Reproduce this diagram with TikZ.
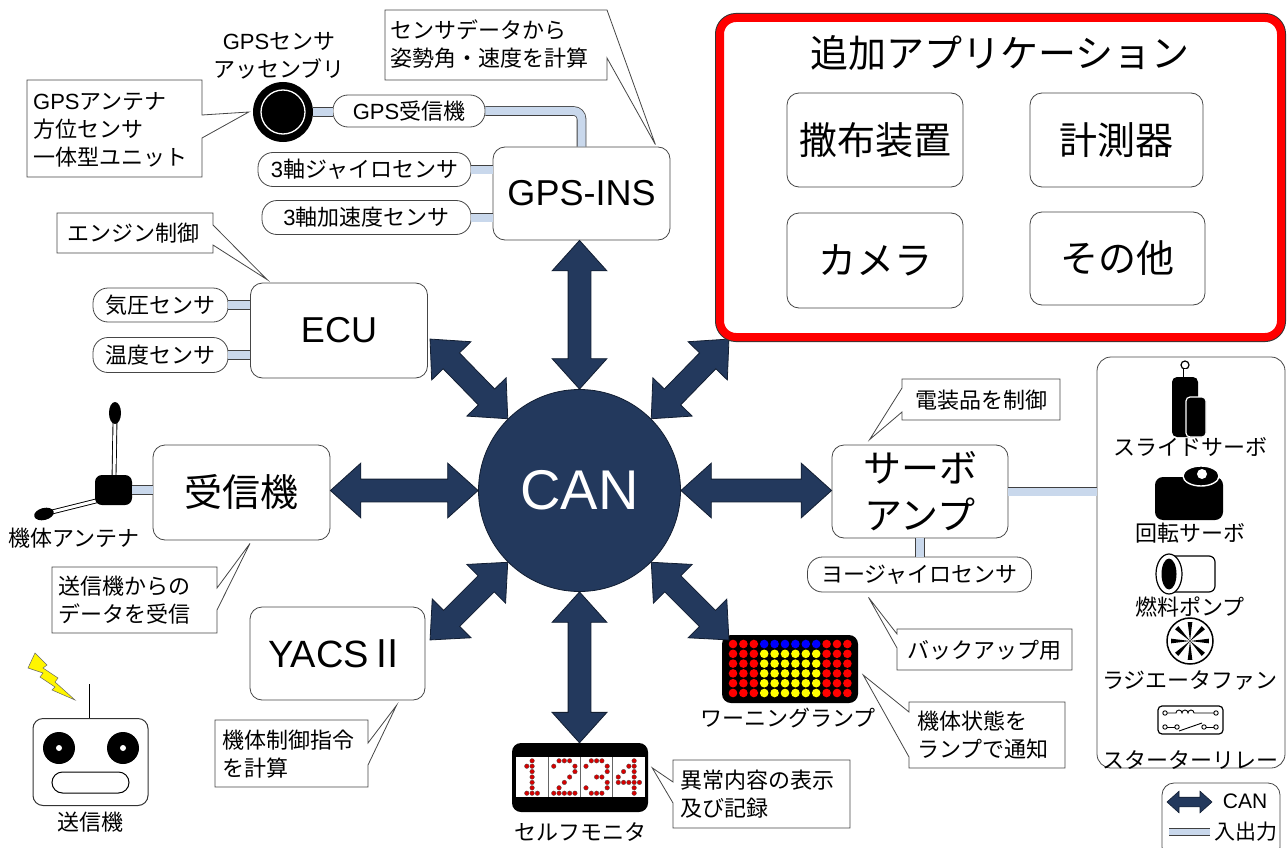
\documentclass[tikz,border=0pt]{standalone}
\usepackage{fontspec}
\setmainfont{Noto Sans CJK JP}
\newfontfamily\lat{Liberation Sans}
\usetikzlibrary{shapes.arrows,calc}

\definecolor{navy}{RGB}{35,57,93}
\definecolor{navyline}{RGB}{18,30,50}
\definecolor{iofill}{RGB}{201,216,236}
\definecolor{ledred}{RGB}{255,0,0}
\definecolor{ledblue}{RGB}{0,0,255}
\definecolor{ledyellow}{RGB}{255,255,0}
\definecolor{digitred}{RGB}{215,0,0}
\definecolor{boltyellow}{RGB}{255,245,0}
\definecolor{edge}{RGB}{70,70,70}

\newcommand\fsBig{\fontsize{38}{47}\selectfont}
\newcommand\fsBigLat{\lat\fontsize{36}{44}\selectfont}
\newcommand\fsSmall{\fontsize{22}{28}\selectfont}

% block arrow of the CAN bus between two points
\newcommand\canlink[4][]{%
  \path let \p1=(#3), \p2=(#4),
    \n1={atan2(\y2-\y1,\x2-\x1)}, \n2={veclen(\x2-\x1,\y2-\y1)} in
    node[canarrow,#1,rotate=\n1,minimum height=\n2] (#2) at ($(\p1)!0.5!(\p2)$) {};}

\begin{document}
\begin{tikzpicture}[x=1pt,y=-1pt,
  unit/.style={draw=edge, line width=0.8pt, fill=white, rounded corners=12pt,
    align=center, inner sep=0pt},
  pill/.style={draw=edge, line width=0.8pt, fill=white, rounded corners=15pt,
    inner sep=0pt, font=\fsSmall},
  callout/.style={draw=edge, line width=0.8pt, fill=white, line join=miter},
  txt/.style={font=\fsSmall, inner sep=0pt, align=left},
  io/.style={draw=black!75, line width=0.8pt, double=iofill, double distance=8pt},
  rod/.style={draw=black, line width=0.9pt, double=white, double distance=3pt},
  canarrow/.style={shape=double arrow, fill=navy, draw=navyline, line width=0.8pt,
    inner xsep=0pt, inner ysep=11pt, double arrow head extend=16pt,
    double arrow tip angle=84},
]
\useasboundingbox (0,0) rectangle (1287,848);

% ---------------- central bus ----------------
\node[circle, fill=navy, draw=navyline, line width=0.8pt, minimum size=202pt,
  inner sep=0pt, text=white, font=\lat\fontsize{56}{56}\selectfont] (can) at (579.5,490.5) {CAN};

% ---------------- units on the bus ----------------
\node[unit, minimum width=177pt, minimum height=93pt, font=\fsBigLat] (gpsins) at (581.5,193.5) {GPS-INS};
\node[unit, minimum width=177pt, minimum height=95pt, font=\fsBigLat] (ecu) at (339,330.5) {ECU};
\node[unit, minimum width=177pt, minimum height=95pt, font=\fsBig] (rx) at (241.5,492.5) {受信機};
\node[unit, minimum width=175pt, minimum height=93pt, font=\fsBig] (yacs) at (337.5,653.5) {{\lat YACS}Ⅱ};
\node[unit, minimum width=176pt, minimum height=93pt, font=\fsBig] (servo) at (920,491.5) {サーボ\\アンプ};

% sensors
\node[pill, minimum width=152pt, minimum height=32pt] (gpsrx) at (409,111) {{\lat GPS}受信機};
\node[pill, minimum width=213pt, minimum height=34pt] (gyro) at (364.5,169.5) {{\lat 3}軸ジャイロセンサ};
\node[pill, minimum width=209pt, minimum height=34pt] (accel) at (366.5,217.5) {{\lat 3}軸加速度センサ};
\node[pill, minimum width=135pt, minimum height=34pt] (press) at (160.5,305) {気圧センサ};
\node[pill, minimum width=135pt, minimum height=35pt] (temp) at (160.5,355) {温度センサ};
\node[pill, minimum width=224pt, minimum height=35pt] (yaw) at (919.5,574.5) {ヨージャイロセンサ};

% GPS sensor assembly
\node[circle, fill=black, minimum size=60pt, inner sep=0pt] (gpsant) at (283,112) {};
\draw[white, line width=1.3pt] (gpsant.center) circle (22);
\node[txt, align=center] (gpsantlbl) at (279,56) {{\lat GPS}センサ\\アッセンブリ};

% receiver antenna
\draw[rod] (114,478) -- (115,421);
\fill (115,413) ellipse (6 and 11);
\draw[rod] (100,500) -- (52,512);
\fill[rotate around={14:(44,514)}] (44,514) ellipse (10 and 6);
\node[fill=black, rounded corners=7pt, minimum width=37pt, minimum height=30pt, inner sep=0pt] (hub) at (113.5,490) {};
\node[txt] (hublbl) at (74,538) {機体アンテナ};

% ---------------- input / output links ----------------
\draw[io, rounded corners=8pt] (gpsrx.east) -| (gpsins.north);
\draw[io] (gpsant.east) -- (gpsrx.west |- gpsant.east);
\draw[io] (gyro.east) -- (gpsins.west |- gyro.east);
\draw[io] (accel.east) -- (gpsins.west |- accel.east);
\draw[io] (press.east) -- (ecu.west |- press.east);
\draw[io] (temp.east) -- (ecu.west |- temp.east);
\draw[io] (hub.east) -- (rx.west |- hub.east);
\draw[io] (servo.south) -- (servo.south |- yaw.north);

% ---------------- actuator panel ----------------
\node[draw=edge, line width=0.8pt, rounded corners=14pt, minimum width=188pt, minimum height=411pt, inner sep=0pt] (panel) at (1191,562.5) {};
\draw[io] (servo.east) -- (panel.west |- servo.east);

% slide servo
\draw[black, line width=1.2pt, fill=white] (1185,365) circle (4);
\draw[rod] (1185,369) -- (1185,378);
\fill[rounded corners=5pt] (1172,377) rectangle (1198,437);
\draw[white, line width=1.2pt, fill=black, rounded corners=4pt] (1186,397) rectangle (1206,437);
\node[txt] (slidelbl) at (1190,447) {スライドサーボ};
% rotary servo
\fill[rounded corners=8pt] (1155,477) rectangle (1223,520);
\draw[white, line width=1.4pt, fill=black] (1201,476) ellipse (18 and 10);
\fill[white] (1202,474) circle (5);
\node[txt] (rotlbl) at (1190,533) {回転サーボ};
% fuel pump
\draw[line width=1.2pt, fill=white, rounded corners=6pt] (1169,556) rectangle (1215,592);
\draw[line width=1.2pt, fill=white] (1169,574) ellipse (13 and 20);
\fill (1169,574) ellipse (7.5 and 15.5);
\node[txt] (pumplbl) at (1190,607) {燃料ポンプ};
% radiator fan
\draw[line width=1.5pt, fill=white] (1190,641) circle (23);
\foreach \a in {0,45,...,315}
  \fill (1190,641) -- +(\a-7:19) -- +(\a+7:19) -- cycle;
\node[txt] (fanlbl) at (1190,680) {ラジエータファン};
% starter relay
\draw[line width=1.2pt, fill=white, rounded corners=4pt] (1158,706) rectangle (1223,734);
\begin{scope}[line width=0.9pt]
  \draw (1165,713) circle (2.2) (1216,713) circle (2.2);
  \draw (1167.2,713) -- (1176,713) arc[start angle=180,end angle=360,radius=3]
    arc[start angle=180,end angle=360,radius=3] arc[start angle=180,end angle=360,radius=3]
    -- (1213.8,713);
  \draw (1165,727) circle (2.2) (1177,727) circle (2.2) (1204,727) circle (2.2) (1216,727) circle (2.2);
  \draw (1167.2,727) -- (1174.8,727) (1206.2,727) -- (1213.8,727);
  \draw (1179,731) -- (1202,723);
\end{scope}
\node[txt] (relaylbl) at (1190,760) {スターターリレー};

% ---------------- warning lamp ----------------
\node[fill=black, rounded corners=9pt, minimum width=136pt, minimum height=68pt, inner sep=0pt] (lamp) at (790,669) {};
\foreach \c in {0,...,11}{\foreach \r in {0,...,5}{
  \ifnum\c<3 \def\dc{ledred}\else\ifnum\c>8 \def\dc{ledred}\else
    \ifnum\r=0 \def\dc{ledblue}\else\def\dc{ledyellow}\fi\fi\fi
  \fill[\dc] ({733+\c*10.4},{644+\r*9.8}) circle (4.3);}}
\node[txt] (lamplbl) at (788,718) {ワーニングランプ};

% ---------------- self monitor ----------------
\node[fill=black, rounded corners=9pt, minimum width=136pt, minimum height=69pt, inner sep=0pt] (mon) at (580,777.5) {};
\fill[white] (516,757) rectangle (645,797);
\foreach \k in {1,2,3} \draw[black!60, line width=1pt] ({516+\k*32.25},757) -- ({516+\k*32.25},797);
\newcommand\digitdots[2]{%
  \foreach \i/\j in {#2}
    \draw[fill=digitred, draw=black!70, line width=0.3pt]
      ({532.1+#1*32.25+(\i-2)*5.3},{777+(\j-3)*5.4}) circle (2.3);}
\digitdots{0}{2/0,1/1,2/1,2/2,2/3,2/4,2/5,1/6,2/6,3/6}
\digitdots{1}{1/0,2/0,3/0,0/1,4/1,4/2,3/3,2/4,1/5,0/6,1/6,2/6,3/6,4/6}
\digitdots{2}{1/0,2/0,3/0,0/1,4/1,4/2,2/3,3/3,4/4,0/5,4/5,1/6,2/6,3/6}
\digitdots{3}{3/0,2/1,3/1,1/2,3/2,0/3,3/3,0/4,1/4,2/4,3/4,4/4,3/5,3/6}
\node[txt] (monlbl) at (580,832) {セルフモニタ};

% ---------------- transmitter ----------------
\draw[rod] (91,684) -- (91,719);
\fill[boltyellow, draw=black!60, line width=0.5pt]
  (28,668) -- (35,653) -- (47,665) -- (43,668) -- (58,678) -- (55,682) -- (75,700)
  -- (52,690) -- (55,687) -- (40,677) -- (43,673) -- cycle;
\node[draw=black!80, line width=1pt, fill=white, rounded corners=10pt, minimum width=115pt,
  minimum height=87pt, inner sep=0pt] (tx) at (90.5,762) {};
\fill (59,748) circle (16) (123,748) circle (16);
\fill[white] (59,748) circle (3) (123,748) circle (3);
\draw[line width=1pt, rounded corners=10.5pt] (52,772) rectangle (129,793);
\node[txt] (txlbl) at (90,822) {送信機};

% ---------------- CAN arrows ----------------
\coordinate (tipUL) at (430,339);
\coordinate (tipUR) at (729,339);
\coordinate (tipDL) at (430,640);
\coordinate (tipDR) at (729,640);
\canlink{arrN}{can.north}{can.north |- gpsins.south}
\canlink{arrS}{can.south}{can.south |- mon.north}
\canlink{arrW}{can.west}{rx.east |- can.west}
\canlink{arrE}{can.east}{servo.west |- can.east}
\canlink{arrNW}{can.135}{tipUL}
\canlink{arrNE}{can.45}{tipUR}
\canlink{arrSW}{can.225}{tipDL}
\canlink{arrSE}{can.315}{tipDR}

% ---------------- callouts ----------------
\draw[callout] (27,80) -- (202,80) -- (202,115) -- ($(gpsant.west)+(-4,0)$) -- (202,138) -- (202,177) -- (27,177) -- cycle;
\node[txt, anchor=west] (c1) at (33,130) {{\lat GPS}アンテナ\\方位センサ\\一体型ユニット};

\draw[callout] (385,10) -- (607,10) -- ($(gpsins.north east)+(-15,-2)$) -- (607,58) -- (607,80) -- (385,80) -- cycle;
\node[txt, anchor=west] (c2) at (390,44) {センサデータから\\姿勢角・速度を計算};

\draw[callout] (57,213) -- (213,213) -- (213,225) -- ($(ecu.north west)+(17,-3)$) -- (213,245) -- (213,253) -- (57,253) -- cycle;
\node[txt] (c3) at (133,233) {エンジン制御};

\draw[callout] (902,379) -- (1060,379) -- (1060,420) -- (902,420) -- (902,412) -- ($(servo.north west)+(38,-5)$) -- (902,388) -- cycle;
\node[txt] (c4) at (981,400) {電装品を制御};

\draw[callout] (52,567) -- (217,567) -- (217,588) -- ($(rx.south)+(8.5,3)$) -- (217,610) -- (217,633) -- (52,633) -- cycle;
\node[txt, anchor=west] (c5) at (58,600) {送信機からの\\データを受信};

\draw[callout] (215,720) -- (368,720) -- (368,743) -- ($(yacs.south)+(59,5)$) -- (368,765) -- (368,787) -- (215,787) -- cycle;
\node[txt, anchor=west] (c6) at (222,754) {機体制御指令\\を計算};

\draw[callout] (897,629) -- (1072,629) -- (1072,670) -- (897,670) -- (897,648) -- ($(yaw.south)+(-51,5)$) -- (897,634) -- cycle;
\node[txt] (c7) at (984,650) {バックアップ用};

\draw[callout] (909,702) -- (1065,702) -- (1065,768) -- (909,768) -- (909,757) -- ($(lamp.east)+(5,6)$) -- (909,712) -- cycle;
\node[txt, anchor=west] (c8) at (917,735) {機体状態を\\ランプで通知};

\draw[callout] (673,760) -- (850,760) -- (850,828) -- (673,828) -- (673,803) -- ($(mon.north east)+(4,25)$) -- (673,782) -- cycle;
\node[txt, anchor=west] (c9) at (680,794) {異常内容の表示\\及び記録};

% ---------------- additional applications ----------------
\draw[black!80, line width=10pt, rounded corners=16pt] (720,18) rectangle (1281,337);
\draw[red, line width=8pt, rounded corners=16pt, fill=white] (720,18) rectangle (1281,337);
\node[inner sep=0pt, font=\fsBig] (apptitle) at (1000,53) {追加アプリケーション};
\node[unit, minimum width=176pt, minimum height=94pt, font=\fsBig] (spray) at (875,140) {撒布装置};
\node[unit, minimum width=173pt, minimum height=94pt, font=\fsBig] (meas) at (1116.5,140) {計測器};
\node[unit, minimum width=176pt, minimum height=95pt, font=\fsBig] (cam) at (875,260.5) {カメラ};
\node[unit, minimum width=175pt, minimum height=93pt, font=\fsBig] (other) at (1117.5,258.5) {その他};

% ---------------- legend ----------------
\node[draw=edge, line width=0.8pt, rounded corners=12pt, minimum width=118pt, minimum height=76pt, inner sep=0pt] (legend) at (1221,821) {};
\coordinate (legA1) at (1167,802);
\coordinate (legA2) at (1212,802);
\canlink[inner ysep=4.5pt, double arrow head extend=6pt, line width=0.6pt]{legarr}{legA1}{legA2}
\node[inner sep=0pt, font=\lat\fontsize{21}{21}\selectfont] (legcan) at (1245,801) {CAN};
\coordinate (legB1) at (1169,832);
\coordinate (legB2) at (1210,832);
\draw[io, double distance=6pt] (legB1) -- (legB2);
\node[inner sep=0pt, font=\fontsize{21}{21}\selectfont] (legio) at (1246,832) {入出力};
\end{tikzpicture}
\end{document}
